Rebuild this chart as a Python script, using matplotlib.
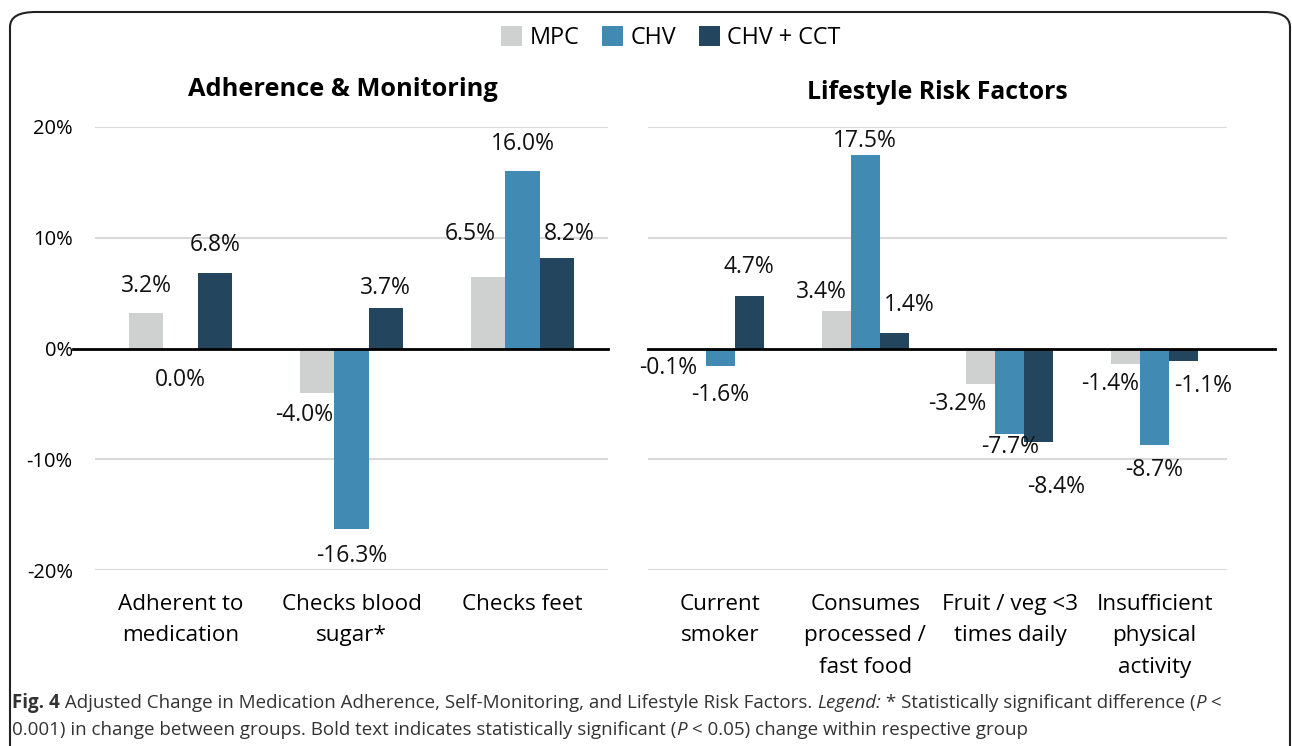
import numpy as np
import matplotlib
matplotlib.use("Agg")
import matplotlib.pyplot as plt
from matplotlib.patches import FancyBboxPatch, Patch
from matplotlib import font_manager

# --- data ---
groups = ["MPC", "CHV", "CHV + CCT"]
colors = ["#cfd0d0", "#418ab3", "#23465e"]

left_cats = ["Adherent to\nmedication", "Checks blood\nsugar*", "Checks feet"]
left_vals = {
    "MPC": [3.2, -4.0, 6.5],
    "CHV": [0.0, -16.3, 16.0],
    "CHV + CCT": [6.8, 3.7, 8.2],
}

right_cats = ["Current\nsmoker", "Consumes\nprocessed /\nfast food",
              "Fruit / veg <3\ntimes daily", "Insufficient\nphysical\nactivity"]
right_vals = {
    "MPC": [-0.1, 3.4, -3.2, -1.4],
    "CHV": [-1.6, 17.5, -7.7, -8.7],
    "CHV + CCT": [4.7, 1.4, -8.4, -1.1],
}

yticks = [-20, -10, 0, 10, 20]

# label offsets in pixels (dx, dy) from bar end, per group per category
left_offs = {
    "MPC": [(0, 27), (-13, -22), (-18, 43)],
    "CHV": [(0, -31), (0, -27), (0, 27)],
    "CHV + CCT": [(0, 28), (0, 20), (13, 24)],
}
right_offs = {
    "MPC": [(-23, -18), (-15, 19), (-24, -20), (-16, -20)],
    "CHV": [(0, -29), (0, 14), (0, -13), (0, -25)],
    "CHV + CCT": [(0, 29), (15, 28), (17, -45), (20, -25)],
}

installed = {f.name for f in font_manager.fontManager.ttflist}
main_font = "Open Sans" if "Open Sans" in installed else "DejaVu Sans"
plt.rcParams["font.family"] = [main_font, "DejaVu Sans"]

fig = plt.figure(figsize=(12.92, 7.46), dpi=100)
W, H = 1292, 746

# rounded frame
frame = FancyBboxPatch((10 / W, -0.1), (1290 - 10) / W, (746 - 12) / H + 0.1,
                       boxstyle="round,pad=0,rounding_size=0.02",
                       transform=fig.transFigure, fill=False,
                       edgecolor="#222222", linewidth=1.5, clip_on=False)
fig.patches.append(frame)

ax_bottom = (746 - 570) / H
ax_height = (570 - 127) / H
axL = fig.add_axes([95 / W, ax_bottom, 513 / W, ax_height])
axR = fig.add_axes([648 / W, ax_bottom, 579 / W, ax_height])


def draw_panel(ax, cats, vals, offs, title, zero_ext, tsize, tpad, tx):
    x = np.arange(len(cats))
    w = 0.2
    for i, g in enumerate(groups):
        xs = x + (i - 1) * w
        ax.bar(xs, vals[g], width=w, color=colors[i], zorder=2)
        for xi, v, (dx, dy) in zip(xs, vals[g], offs[g]):
            ax.annotate(f"{v:.1f}%", (xi, v), xytext=(dx, dy),
                        textcoords="offset pixels", ha="center", va="center",
                        fontsize=16.5, color="#111111", zorder=4)
    ax.set_xlim(-0.5, len(cats) - 0.5)
    ax.set_ylim(-20, 20)
    ax.set_yticks(yticks)
    for t in yticks:
        if t != 0:
            ax.axhline(t, color="#d9d9d9", linewidth=1.5, zorder=1)
    ax.plot(zero_ext, [0.5, 0.5], transform=ax.transAxes, color="black",
            linewidth=2, clip_on=False, zorder=3)
    for s in ax.spines.values():
        s.set_visible(False)
    ax.set_xticks(x)
    ax.set_xticklabels(cats, fontsize=16.2, linespacing=1.66)
    ax.tick_params(axis="both", length=0)
    ax.tick_params(axis="x", pad=17)
    ax.set_title(title, fontsize=tsize, fontweight="bold", pad=tpad, x=tx)


draw_panel(axL, left_cats, left_vals, left_offs, "Adherence & Monitoring",
           [-22 / 513, 1.0], 18.3, 22, (343 - 95) / 513)
draw_panel(axR, right_cats, right_vals, right_offs, "Lifestyle Risk Factors",
           [0.0, (1275 - 648) / 579], 17.8, 20, 0.5)

axL.set_yticklabels([f"{t}%" for t in yticks], fontsize=14.5)
axL.tick_params(axis="y", pad=16)
axR.set_yticklabels([])

handles = [Patch(facecolor=c, edgecolor="none") for c in colors]
fig.legend(handles, groups, loc="center", bbox_to_anchor=(671 / W, 1 - 38 / H),
           ncol=3, frameon=False, fontsize=16.8, handlelength=0.9,
           handleheight=0.9, handletextpad=0.3, columnspacing=1.0)

# caption with mixed styles
fig.canvas.draw()
renderer = fig.canvas.get_renderer()


def caption_line(pieces, x0, y0, size=13.5):
    x = x0
    for txt, style in pieces:
        kw = {"fontweight": "bold"} if style == "b" else {}
        if style == "i":
            kw["fontstyle"] = "italic"
        t = fig.text(x / W, 1 - y0 / H, txt, fontsize=size, va="center",
                     ha="left", color="#333333", **kw)
        bb = t.get_window_extent(renderer)
        x += bb.width


caption_line([("Fig. 4", "b"),
              (" Adjusted Change in Medication Adherence, Self-Monitoring, and Lifestyle Risk Factors. ", "n"),
              ("Legend:", "i"),
              (" * Statistically significant difference (", "n"),
              ("P", "i"), (" <", "n")], 12, 703)
caption_line([("0.001) in change between groups. Bold text indicates statistically significant (", "n"),
              ("P", "i"), (" < 0.05) change within respective group", "n")], 12, 730)

fig.savefig("out.png", dpi=100)
